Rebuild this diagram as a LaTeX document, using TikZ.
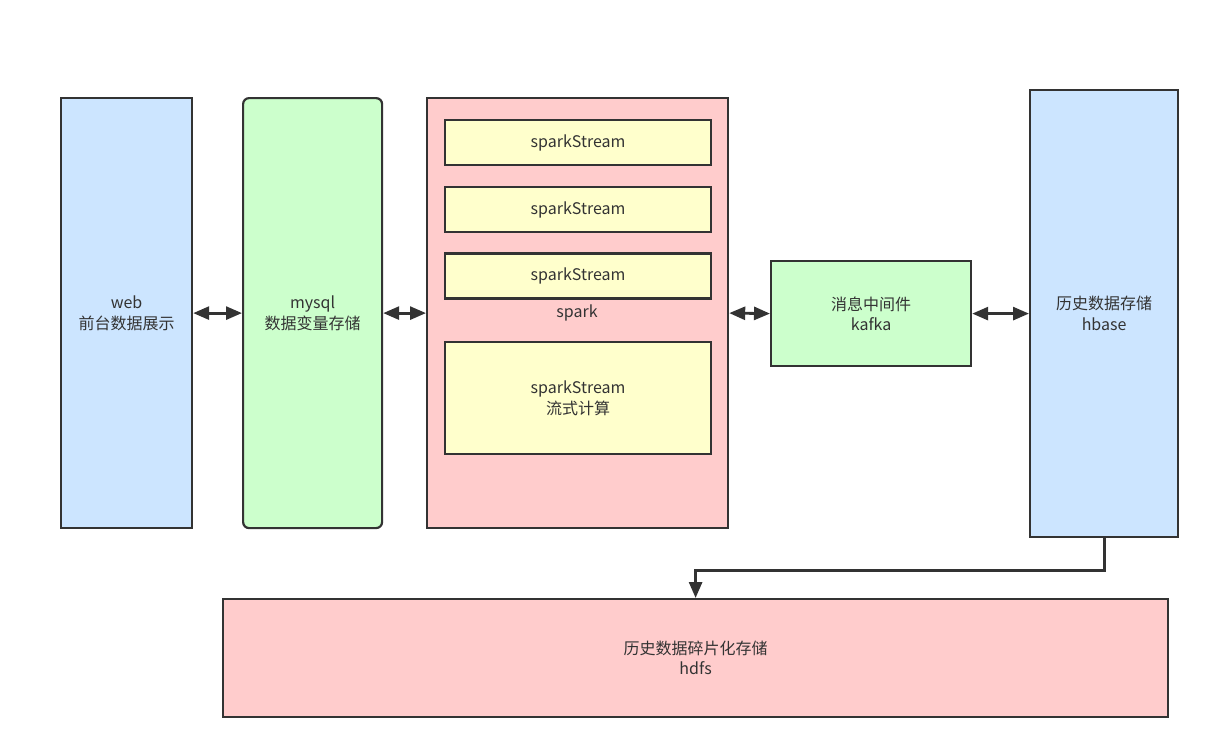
\documentclass[tikz,border=0pt]{standalone}
\usepackage{fontspec}
\setmainfont{Noto Sans CJK SC}
\usepackage{xcolor}
\usetikzlibrary{arrows.meta,positioning}
\definecolor{lineC}{HTML}{333333}
\definecolor{blueC}{HTML}{CCE5FF}
\definecolor{greenC}{HTML}{CCFFCC}
\definecolor{pinkC}{HTML}{FFCCCC}
\definecolor{yellowC}{HTML}{FFFFCC}

\begin{document}
\begin{tikzpicture}[x=1pt, y=-1pt,
		box/.style={draw=lineC, line width=2.2pt, anchor=north west, inner sep=0pt, align=center, text=lineC, font=\fontsize{16}{20.5}\selectfont},
		streambox/.style={box, fill=yellowC, minimum width=266pt, minimum height=45pt},
		link/.style={draw=lineC, line width=2.8pt, {Triangle[length=16pt,width=13pt]}-{Triangle[length=16pt,width=13pt]}},
		flow/.style={draw=lineC, line width=2.8pt, -{Triangle[length=16pt,width=13pt]}}]
			\useasboundingbox (0,0) rectangle (1219,755);
			% columns
			\node (web) [box, fill=blueC, minimum width=131pt, minimum height=430pt] at (60,97) {web\\前台数据展示};
			\node (mysql) [box, fill=greenC, rounded corners=6pt, minimum width=139pt, minimum height=430pt] at (242,97) {mysql\\数据变量存储};
			\node (spark) [box, fill=pinkC, minimum width=301pt, minimum height=430pt] at (426,97) {};
			\node (kafka) [box, fill=greenC, minimum width=200pt, minimum height=105pt] at (770,260) {消息中间件\\kafka};
			\node (hbase) [box, fill=blueC, minimum width=148pt, minimum height=447pt] at (1029,89) {历史数据存储\\hbase};
			\node (hdfs) [box, fill=pinkC, minimum width=945pt, minimum height=118pt] at (222,598) {历史数据碎片化存储\\hdfs};
			
			% inside spark
			\node (s1) [streambox] at (444,119) {sparkStream};
			\node (s2) [streambox, below=20pt of s1.south west, anchor=north west] {sparkStream};
			\node (s3) [streambox, below=19pt of s2.south west, anchor=north west] {sparkStream};
			\node (sparkLbl) [text=lineC, font=\fontsize{16}{20.5}\selectfont] at (577,313) {spark};
			\node (s4) [streambox, minimum height=112pt] at (444,341) {sparkStream\\流式计算};
			
			\draw [link] (web.east) -- (mysql.west);
			\draw [link] (mysql.east) -- (spark.west);
			\draw [link] (spark.east) -- (kafka.west);
			\draw [link] (kafka.east) -- (hbase.west);
			\draw [flow] (hbase.south) -- ++(0,32) -| (hdfs.north);
		\end{tikzpicture}
\end{document}
